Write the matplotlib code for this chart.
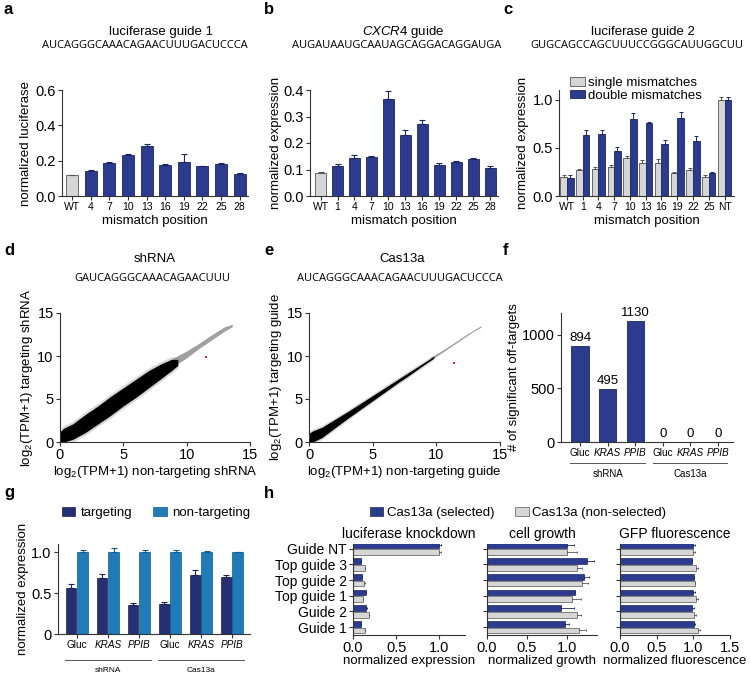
import numpy as np
import matplotlib
matplotlib.use("Agg")
import matplotlib.pyplot as plt
from matplotlib.patches import Patch

plt.rcParams['font.family'] = ['Liberation Sans', 'DejaVu Sans']
plt.rcParams['mathtext.fontset'] = 'custom'
plt.rcParams['mathtext.rm'] = 'Liberation Sans'
plt.rcParams['mathtext.it'] = 'Liberation Sans:italic'
plt.rcParams['mathtext.bf'] = 'Liberation Sans:bold'

# ---------------- data ----------------
a_labels = ['WT', '4', '7', '10', '13', '16', '19', '22', '25', '28']
a_vals = [0.118, 0.143, 0.187, 0.230, 0.281, 0.177, 0.195, 0.169, 0.179, 0.122]
a_err = [0.003, 0.003, 0.003, 0.005, 0.015, 0.006, 0.040, 0.003, 0.009, 0.011]

b_labels = ['WT', '1', '4', '7', '10', '13', '16', '19', '22', '25', '28']
b_vals = [0.087, 0.112, 0.143, 0.147, 0.367, 0.232, 0.270, 0.117, 0.130, 0.138, 0.105]
b_err = [0.002, 0.010, 0.012, 0.003, 0.030, 0.018, 0.017, 0.008, 0.002, 0.004, 0.010]

c_labels = ['WT', '1', '4', '7', '10', '13', '16', '19', '22', '25', 'NT']
c_single = [0.20, 0.27, 0.28, 0.30, 0.39, 0.34, 0.34, 0.235, 0.27, 0.20, 1.00]
c_single_err = [0.015, 0.01, 0.02, 0.02, 0.02, 0.03, 0.04, 0.01, 0.02, 0.02, 0.03]
c_double = [0.19, 0.63, 0.64, 0.47, 0.80, 0.76, 0.535, 0.81, 0.575, 0.235, 1.00]
c_double_err = [0.03, 0.05, 0.04, 0.04, 0.06, 0.01, 0.05, 0.06, 0.05, 0.01, 0.03]

# scatter clouds (envelopes)
d_core_x = [0.0, 0.3, 1, 2, 3, 4, 5, 6, 7, 8, 8.8, 9.3]
d_core_lo = [0.0, 0.0, 0.3, 1.1, 2.1, 3.1, 4.2, 5.2, 6.3, 7.4, 8.3, 8.9]
d_core_hi = [1.2, 1.6, 2.1, 3.2, 4.2, 5.3, 6.3, 7.3, 8.3, 9.1, 9.6, 9.6]
d_tail_x = [8.5, 10, 11, 12, 13, 13.6]
d_tail_lo = [8.3, 9.8, 10.9, 11.9, 12.9, 13.4]
d_tail_hi = [9.4, 10.6, 11.5, 12.5, 13.4, 13.7]
d_red = (11.5, 9.9)

e_core_x = [0, 0.3, 1, 2, 3, 4, 5, 6, 7, 8, 9, 9.8]
e_core_lo = [0, 0, 0.5, 1.6, 2.7, 3.75, 4.8, 5.85, 6.9, 7.9, 8.95, 9.75]
e_core_hi = [1.0, 1.3, 1.7, 2.6, 3.5, 4.45, 5.4, 6.35, 7.3, 8.25, 9.2, 9.95]
e_tail_x = [9.5, 11, 12, 13, 13.5]
e_tail_lo = [9.45, 10.95, 11.95, 12.95, 13.35]
e_tail_hi = [9.8, 11.15, 12.15, 13.1, 13.5]
e_red = (11.4, 9.2)

f_labels = ['Gluc', 'KRAS', 'PPIB', 'Gluc', 'KRAS', 'PPIB']
f_vals = [894, 495, 1130, 0, 0, 0]

g_labels = ['Gluc', 'KRAS', 'PPIB', 'Gluc', 'KRAS', 'PPIB']
g_targ = [0.56, 0.69, 0.35, 0.37, 0.72, 0.70]
g_targ_err = [0.05, 0.04, 0.03, 0.02, 0.06, 0.02]
g_nont = [1.0, 1.0, 1.0, 1.0, 1.0, 1.0]
g_nont_err = [0.03, 0.05, 0.03, 0.03, 0.01, 0.0]

h_labels = ['Guide 1', 'Guide 2', 'Top guide 1', 'Top guide 2', 'Top guide 3', 'Guide NT']
h_luc_sel = [0.088, 0.154, 0.146, 0.108, 0.096, 1.0]
h_luc_sel_err = [0.0, 0.01, 0.0, 0.0, 0.0, 0.02]
h_luc_non = [0.135, 0.19, 0.115, 0.125, 0.135, 1.0]
h_luc_non_err = [0.0, 0.0, 0.0, 0.01, 0.0, 0.02]
h_grow_sel = [0.98, 0.92, 1.10, 1.21, 1.25, 1.0]
h_grow_sel_err = [0.05, 0.17, 0.0, 0.07, 0.09, 0.09]
h_grow_non = [1.15, 1.12, 1.06, 1.19, 1.125, 1.0]
h_grow_non_err = [0.09, 0.05, 0.12, 0.07, 0.06, 0.12]
h_gfp_sel = [1.01, 0.98, 1.0, 1.01, 0.98, 1.0]
h_gfp_sel_err = [0.01, 0.03, 0.02, 0.0, 0.0, 0.02]
h_gfp_non = [1.07, 1.01, 1.04, 1.02, 1.04, 1.0]
h_gfp_non_err = [0.02, 0.02, 0.02, 0.0, 0.02, 0.02]

# ---------------- style ----------------
BLUE = '#2c3b8e'
BLUE_E = '#1c2660'
GRAY = '#d6d6d6'
GRAY_E = '#555555'
TARG = '#262f72'
NONT = '#1f7cb8'
SEQ_FONT = ['Open Sans', 'DejaVu Sans']

W, H = 750, 677
fig = plt.figure(figsize=(7.5, 6.77), dpi=100)


def add_ax(x0, y0, x1, y1):
    return fig.add_axes([x0 / W, 1 - y1 / H, (x1 - x0) / W, (y1 - y0) / H])


def ftext(x, y, s, **kw):
    fig.text(x / W, 1 - y / H, s, **kw)


def style(ax):
    for s in ['top', 'right']:
        ax.spines[s].set_visible(False)
    for s in ['left', 'bottom']:
        ax.spines[s].set_linewidth(0.8)
        ax.spines[s].set_color('#333333')
    ax.tick_params(length=3, width=0.8, color='#333333', pad=1.5)


def panel_letter(x, y, s):
    ftext(x, y, s, fontsize=12, fontweight='bold', va='center', ha='left')


# ---------------- panel a ----------------
ax = add_ax(62, 90, 248, 196)
style(ax)
xa = np.arange(len(a_labels))
cols = [GRAY] + [BLUE] * (len(a_labels) - 1)
ecols = [GRAY_E] + [BLUE_E] * (len(a_labels) - 1)
ax.bar(xa, a_vals, width=0.65, color=cols, edgecolor=ecols, linewidth=0.6)
for xi, v, e, ec in zip(xa, a_vals, a_err, ecols):
    ax.errorbar(xi, v, yerr=[[0], [e]], color=ec, capsize=2.5, lw=0.8, capthick=0.8)
ax.set_xlim(-0.55, 9.45)
ax.set_ylim(0, 0.6)
ax.set_yticks([0, 0.2, 0.4, 0.6])
ax.set_yticklabels(['0.0', '0.2', '0.4', '0.6'], fontsize=10.5)
ax.set_xticks(xa)
ax.set_xticklabels(a_labels, fontsize=7.5)
ax.set_xlabel('mismatch position', fontsize=9.5, labelpad=2)
ax.set_ylabel('normalized luciferase', fontsize=9.5, labelpad=2)
panel_letter(4, 10, 'a')
ftext(161, 32, 'luciferase guide 1', fontsize=9.5, ha='center', va='center')
ftext(145, 46, 'AUCAGGGCAAACAGAACUUUGACUCCCA', fontsize=8, ha='center', va='center', family=SEQ_FONT)

# ---------------- panel b ----------------
ax = add_ax(310, 90, 498, 196)
style(ax)
xb = np.arange(len(b_labels))
cols = [GRAY] + [BLUE] * (len(b_labels) - 1)
ecols = [GRAY_E] + [BLUE_E] * (len(b_labels) - 1)
ax.bar(xb, b_vals, width=0.65, color=cols, edgecolor=ecols, linewidth=0.6)
for xi, v, e, ec in zip(xb, b_vals, b_err, ecols):
    ax.errorbar(xi, v, yerr=[[0], [e]], color=ec, capsize=2.5, lw=0.8, capthick=0.8)
ax.set_xlim(-0.62, 10.45)
ax.set_ylim(0, 0.4)
ax.set_yticks([0, 0.1, 0.2, 0.3, 0.4])
ax.set_yticklabels(['0.0', '0.1', '0.2', '0.3', '0.4'], fontsize=10.5)
ax.set_xticks(xb)
ax.set_xticklabels(b_labels, fontsize=7.5)
ax.set_xlabel('mismatch position', fontsize=9.5, labelpad=2)
ax.set_ylabel('normalized expression', fontsize=9.5, labelpad=1)
panel_letter(264, 10, 'b')
ftext(403, 32, r'$\mathit{CXCR4}$ guide', fontsize=9.5, ha='center', va='center')
ftext(397, 46, 'AUGAUAAUGCAAUAGCAGGACAGGAUGA', fontsize=8, ha='center', va='center', family=SEQ_FONT)

# ---------------- panel c ----------------
ax = add_ax(559, 90, 734, 196)
style(ax)
xc = np.arange(len(c_labels))
bw = 0.42
ax.bar(xc - bw / 2, c_single, width=bw, color=GRAY, edgecolor=GRAY_E, linewidth=0.6)
ax.bar(xc + bw / 2, c_double, width=bw, color=BLUE, edgecolor=BLUE_E, linewidth=0.6)
for xi, v, e in zip(xc, c_single, c_single_err):
    ax.errorbar(xi - bw / 2, v, yerr=[[0], [e]], color=GRAY_E, capsize=1.2, lw=0.7, capthick=0.7)
for xi, v, e in zip(xc, c_double, c_double_err):
    ax.errorbar(xi + bw / 2, v, yerr=[[0], [e]], color=BLUE_E, capsize=1.2, lw=0.7, capthick=0.7)
ax.set_xlim(-0.5, 10.6)
ax.set_ylim(0, 1.1)
ax.set_yticks([0, 0.5, 1.0])
ax.set_yticklabels(['0.0', '0.5', '1.0'], fontsize=10.5)
ax.set_xticks(xc)
ax.set_xticklabels(c_labels, fontsize=7.5)
ax.set_xlabel('mismatch position', fontsize=9.5, labelpad=2)
ax.set_ylabel('normalized expression', fontsize=9.5, labelpad=2)
fig.legend(handles=[Patch(facecolor=GRAY, edgecolor=GRAY_E, lw=0.6),
                    Patch(facecolor=BLUE, edgecolor=BLUE_E, lw=0.6)],
           labels=['single mismatches', 'double mismatches'],
           loc='upper left', bbox_to_anchor=(570 / W, 1 - 77 / H), frameon=False,
           fontsize=9.5, handlelength=1.1, handleheight=0.6, handletextpad=0.3,
           labelspacing=0.05, borderpad=0, borderaxespad=0)
panel_letter(503, 10, 'c')
ftext(643, 32, 'luciferase guide 2', fontsize=9.5, ha='center', va='center')
ftext(637, 46, 'GUGCAGCCAGCUUUCCGGGCAUUGGCUU', fontsize=8, ha='center', va='center', family=SEQ_FONT)


# ---------------- panels d, e ----------------
def cloud(ax, cx, clo, chi, tx, tlo, thi, red, halo):
    cx = np.asarray(cx, float)
    ax.fill_between(cx, np.asarray(clo) - halo, np.asarray(chi) + halo, color='#9a9a9a', alpha=0.4, lw=0)
    ax.fill_between(tx, tlo, thi, color='#6e6e6e', alpha=0.65, lw=0)
    ax.fill_between(cx, clo, chi, color='black', lw=0)
    ax.plot([red[0]], [red[1]], 's', color='#e8202a', ms=2, mew=0)


ax = add_ax(60, 313, 250, 442)
style(ax)
cloud(ax, d_core_x, d_core_lo, d_core_hi, d_tail_x, d_tail_lo, d_tail_hi, d_red, 0.3)
ax.set_xlim(0, 15)
ax.set_ylim(0, 15)
ax.set_xticks([0, 5, 10, 15])
ax.set_yticks([0, 5, 10, 15])
ax.tick_params(labelsize=10.5)
ax.set_xlabel(r'log$_\mathregular{2}$(TPM+1) non-targeting shRNA', fontsize=9.5, labelpad=1)
ax.set_ylabel(r'log$_\mathregular{2}$(TPM+1) targeting shRNA', fontsize=9.5, labelpad=2)
panel_letter(4, 250, 'd')
ftext(155, 259, 'shRNA', fontsize=9.5, ha='center', va='center')
ftext(152, 278, 'GAUCAGGGCAAACAGAACUUU', fontsize=8, ha='center', va='center', family=SEQ_FONT)

ax = add_ax(309, 313, 500, 442)
style(ax)
cloud(ax, e_core_x, e_core_lo, e_core_hi, e_tail_x, e_tail_lo, e_tail_hi, e_red, 0.2)
ax.set_xlim(0, 15)
ax.set_ylim(0, 15)
ax.set_xticks([0, 5, 10, 15])
ax.set_yticks([0, 5, 10, 15])
ax.tick_params(labelsize=10.5)
ax.set_xlabel(r'log$_\mathregular{2}$(TPM+1) non-targeting guide', fontsize=9.5, labelpad=1)
ax.set_ylabel(r'log$_\mathregular{2}$(TPM+1) targeting guide', fontsize=9.5, labelpad=2)
panel_letter(264, 250, 'e')
ftext(402, 259, 'Cas13a', fontsize=9.5, ha='center', va='center')
ftext(400, 278, 'AUCAGGGCAAACAGAACUUUGACUCCCA', fontsize=8, ha='center', va='center', family=SEQ_FONT)


def group_lines(ax, groups, yline, ytext, fs):
    tr = ax.get_xaxis_transform()
    for (x0, x1, name) in groups:
        ax.plot([x0, x1], [yline, yline], color='#555555', lw=0.7, transform=tr, clip_on=False)
        ax.text((x0 + x1) / 2, ytext, name, transform=tr, ha='center', va='center', fontsize=fs)


def italic_ticks(ax):
    for t in ax.get_xticklabels():
        if t.get_text() in ('KRAS', 'PPIB'):
            t.set_fontstyle('italic')


# ---------------- panel f ----------------
ax = add_ax(561, 313, 733, 442)
style(ax)
xf = np.arange(len(f_labels))
ax.bar(xf, f_vals, width=0.62, color=BLUE, edgecolor=BLUE_E, linewidth=0.6)
for xi, v in zip(xf, f_vals):
    ax.text(xi, v + 15, str(v), ha='center', va='bottom', fontsize=9.5)
ax.set_xlim(-0.69, 5.55)
ax.set_ylim(0, 1200)
ax.set_yticks([0, 500, 1000])
ax.tick_params(axis='y', labelsize=10.5)
ax.set_xticks(xf)
ax.set_xticklabels(f_labels, fontsize=7.2)
italic_ticks(ax)
ax.set_ylabel('# of significant off-targets', fontsize=9.5, labelpad=1)
group_lines(ax, [(-0.35, 2.35, 'shRNA'), (2.65, 5.35, 'Cas13a')], -0.165, -0.245, 7)
panel_letter(503, 250, 'f')

# ---------------- panel g ----------------
ax = add_ax(58, 544, 250, 634)
style(ax)
xg = np.arange(len(g_labels))
gw = 0.33
ax.bar(xg - 0.18, g_targ, width=gw, color=TARG, edgecolor='#1a2050', linewidth=0.5)
ax.bar(xg + 0.18, g_nont, width=gw, color=NONT, edgecolor='#155a88', linewidth=0.5)
for xi, v, e in zip(xg, g_targ, g_targ_err):
    ax.errorbar(xi - 0.18, v, yerr=[[0], [e]], color='#1a2050', capsize=2, lw=0.8, capthick=0.8)
for xi, v, e in zip(xg, g_nont, g_nont_err):
    ax.errorbar(xi + 0.18, v, yerr=[[0], [e]], color='#155a88', capsize=2, lw=0.8, capthick=0.8)
ax.set_xlim(-0.61, 5.58)
ax.set_ylim(0, 1.1)
ax.set_yticks([0, 0.5, 1.0])
ax.set_yticklabels(['0', '0.5', '1.0'], fontsize=10.5)
ax.set_xticks(xg)
ax.set_xticklabels(g_labels, fontsize=7.2)
italic_ticks(ax)
ax.set_ylabel('normalized expression', fontsize=9.5, labelpad=2)
group_lines(ax, [(-0.4, 2.4, 'shRNA'), (2.6, 5.4, 'Cas13a')], -0.29, -0.41, 6)
fig.legend(handles=[Patch(facecolor=TARG, edgecolor='#1a2050', lw=0.5),
                    Patch(facecolor=NONT, edgecolor='#155a88', lw=0.5)],
           labels=['targeting', 'non-targeting'], ncol=2,
           loc='center', bbox_to_anchor=(156 / W, 1 - 513 / H), frameon=False,
           fontsize=9.5, handlelength=1.0, handleheight=0.6, handletextpad=0.4,
           columnspacing=1.6, borderpad=0)
panel_letter(4, 493, 'g')

# ---------------- panel h ----------------
yh = np.arange(len(h_labels))
hh = 0.36
off = 0.21


def hpanel(ax, sel, sel_err, non, non_err, xlim, xticks, title, xlabel, labels):
    style(ax)
    ax.barh(yh + off, sel, height=hh, color=BLUE, edgecolor=BLUE_E, linewidth=0.5)
    ax.barh(yh - off, non, height=hh, color=GRAY, edgecolor=GRAY_E, linewidth=0.5)
    for yi, v, e in zip(yh, sel, sel_err):
        ax.errorbar(v, yi + off, xerr=[[0], [e]], color=BLUE_E, capsize=1, lw=0.6, capthick=0.6)
    for yi, v, e in zip(yh, non, non_err):
        ax.errorbar(v, yi - off, xerr=[[0], [e]], color=GRAY_E, capsize=1, lw=0.6, capthick=0.6)
    ax.set_xlim(*xlim)
    ax.set_ylim(-0.5, 5.3)
    ax.set_xticks(xticks)
    ax.set_xticklabels(['%.1f' % t for t in xticks], fontsize=10.5)
    ax.set_yticks(yh)
    if labels:
        ax.set_yticklabels(h_labels, fontsize=10)
    else:
        ax.set_yticklabels([])
    ax.set_xlabel(xlabel, fontsize=9.5, labelpad=0)
    ax.set_title(title, fontsize=10, pad=4)


ax = add_ax(353, 544, 465, 635)
hpanel(ax, h_luc_sel, h_luc_sel_err, h_luc_non, h_luc_non_err, (0, 1.3), [0, 0.5, 1.0],
       'luciferase knockdown', 'normalized expression', True)
ax = add_ax(487, 544, 597, 635)
hpanel(ax, h_grow_sel, h_grow_sel_err, h_grow_non, h_grow_non_err, (0, 1.375), [0, 0.5, 1.0],
       'cell growth', 'normalized growth', False)
ax = add_ax(620, 544, 730, 635)
hpanel(ax, h_gfp_sel, h_gfp_sel_err, h_gfp_non, h_gfp_non_err, (0, 1.5), [0, 0.5, 1.0, 1.5],
       'GFP fluorescence', 'normalized fluorescence', False)
fig.legend(handles=[Patch(facecolor=BLUE, edgecolor=BLUE_E, lw=0.5),
                    Patch(facecolor=GRAY, edgecolor=GRAY_E, lw=0.5)],
           labels=['Cas13a (selected)', 'Cas13a (non-selected)'], ncol=2,
           loc='center', bbox_to_anchor=(518 / W, 1 - 513 / H), frameon=False,
           fontsize=9.5, handlelength=1.0, handleheight=0.6, handletextpad=0.3,
           columnspacing=1.6, borderpad=0)
panel_letter(264, 493, 'h')

fig.savefig('out.png', dpi=100)
